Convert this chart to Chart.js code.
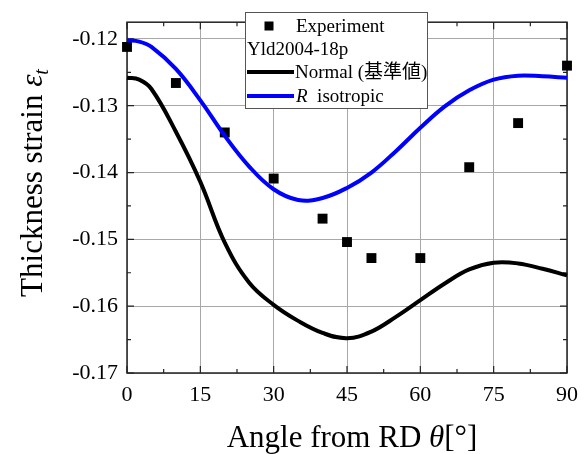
<!DOCTYPE html>
<html>
<head>
<meta charset="utf-8">
<script src="https://cdn.jsdelivr.net/npm/chart.js@4/dist/chart.umd.min.js"></script>
<style>
html, body { margin: 0; padding: 0; background: #fff; }
</style>
</head>
<body>
<canvas id="chart" width="587" height="454"></canvas>
<script>
// measured points
var exp_angle = [0, 10, 20, 30, 40, 45, 50, 60, 70, 80, 90];
var exp_strain = [-0.1212, -0.1266, -0.1340, -0.1409, -0.1469, -0.1504, -0.1528, -0.1528, -0.1392, -0.1326, -0.1240];

// simulated curves (Yld2004-18p)
var curve_angle = [0, 2.5, 5, 10, 15, 20, 25, 30, 35, 40, 45, 50, 55, 60, 65, 70, 75, 80, 85, 90];
var normal_strain = [-0.1258, -0.1261, -0.1275, -0.1339, -0.1414, -0.1505, -0.1565, -0.1598, -0.1622, -0.1640, -0.1648, -0.1638, -0.1616, -0.1591, -0.1566, -0.1545, -0.1535, -0.1536, -0.1544, -0.1554];
var iso_strain = [-0.1202, -0.1204, -0.1212, -0.1245, -0.1292, -0.1345, -0.1391, -0.1425, -0.1441, -0.1438, -0.1423, -0.1400, -0.1368, -0.1333, -0.1301, -0.1277, -0.1261, -0.1255, -0.1256, -0.1258];

var x_ticks = [0, 15, 30, 45, 60, 75, 90];
var y_ticks = [-0.17, -0.16, -0.15, -0.14, -0.13, -0.12];

var serif = "'Liberation Serif', 'Times New Roman', serif";
var cjk = "'Liberation Serif', 'Noto Sans CJK JP', serif";

function pairs(xs, ys) {
    var out = [];
    for (var i = 0; i < xs.length; i++) {
        out.push({x: xs[i], y: ys[i]});
    }
    return out;
}

// draws a row of text pieces with their own fonts
function drawRuns(ctx, runs, x, y, align) {
    var total = 0;
    runs.forEach(function(r) {
        ctx.font = r.font;
        r.w = ctx.measureText(r.text).width;
        total += r.w;
    });
    var cx = align == 'center' ? x - total / 2 : x;
    runs.forEach(function(r) {
        ctx.font = r.font;
        ctx.fillText(r.text, cx, y + (r.dy || 0));
        cx += r.w;
    });
}

var framePlugin = {
    id: 'frame',
    beforeDatasetsDraw: function(chart) {
        var ctx = chart.ctx;
        var a = chart.chartArea;
        var xs = chart.scales.x, ys = chart.scales.y;
        ctx.save();
        ctx.strokeStyle = '#222';
        ctx.lineWidth = 1.5;
        ctx.strokeRect(a.left, a.top, a.right - a.left, a.bottom - a.top);
        ctx.lineWidth = 1.2;
        ctx.beginPath();
        x_ticks.forEach(function(v, i) {
            var px = xs.getPixelForValue(v);
            ctx.moveTo(px, a.bottom); ctx.lineTo(px, a.bottom - 7);
            ctx.moveTo(px, a.top); ctx.lineTo(px, a.top + 7);
            if (i < x_ticks.length - 1) {
                var pm = xs.getPixelForValue(v + 7.5);
                ctx.moveTo(pm, a.bottom); ctx.lineTo(pm, a.bottom - 4);
                ctx.moveTo(pm, a.top); ctx.lineTo(pm, a.top + 4);
            }
        });
        y_ticks.forEach(function(v) {
            var py = ys.getPixelForValue(v);
            ctx.moveTo(a.left, py); ctx.lineTo(a.left + 7, py);
            ctx.moveTo(a.right, py); ctx.lineTo(a.right - 7, py);
            var pm = ys.getPixelForValue(v + 0.005);
            if (pm > a.top) {
                ctx.moveTo(a.left, pm); ctx.lineTo(a.left + 4, pm);
                ctx.moveTo(a.right, pm); ctx.lineTo(a.right - 4, pm);
            }
        });
        ctx.stroke();
        ctx.restore();
    },
    afterDraw: function(chart) {
        var ctx = chart.ctx;
        ctx.save();
        ctx.fillStyle = '#000';
        ctx.textBaseline = 'alphabetic';

        // x title
        drawRuns(ctx, [
            {text: 'Angle from RD ', font: '31px ' + serif},
            {text: '\u03b8', font: 'italic 31px ' + serif},
            {text: '[\u00b0]', font: '31px ' + serif}
        ], 352, 447, 'center');

        // y title
        ctx.translate(42, 183);
        ctx.rotate(-Math.PI / 2);
        drawRuns(ctx, [
            {text: 'Thickness strain ', font: '31px ' + serif},
            {text: '\u03b5', font: 'italic 31px ' + serif},
            {text: 't', font: 'italic 20px ' + serif, dy: 6}
        ], 0, 0, 'center');
        ctx.restore();

        // legend
        ctx.save();
        ctx.fillStyle = '#fff';
        ctx.fillRect(245.5, 12.5, 182, 96);
        ctx.strokeStyle = '#555';
        ctx.lineWidth = 1;
        ctx.strokeRect(245.5, 12.5, 182, 96);
        ctx.fillStyle = '#000';
        ctx.textBaseline = 'middle';
        ctx.fillRect(264.5, 21.5, 9, 9);
        ctx.font = '19px ' + serif;
        ctx.fillText('Experiment', 296, 27);
        ctx.fillText('Yld2004-18p', 247, 50);
        ctx.lineWidth = 4;
        ctx.strokeStyle = '#000';
        ctx.beginPath(); ctx.moveTo(247, 72); ctx.lineTo(294, 72); ctx.stroke();
        ctx.font = '19px ' + cjk;
        ctx.fillText('Normal (\u57fa\u6e96\u5024)', 295, 73);
        ctx.strokeStyle = '#0000ff';
        ctx.beginPath(); ctx.moveTo(247, 96); ctx.lineTo(294, 96); ctx.stroke();
        drawRuns(ctx, [
            {text: 'R', font: 'italic 19px ' + serif},
            {text: '  isotropic', font: '19px ' + serif}
        ], 296, 97, 'left');
        ctx.restore();
    }
};

var ctx = document.getElementById('chart').getContext('2d');

var chart = new Chart(ctx, {
    type: 'scatter',
    data: {
        datasets: [{
            label: 'Normal',
            data: pairs(curve_angle, normal_strain),
            showLine: true,
            borderColor: '#000',
            borderWidth: 4,
            pointRadius: 0,
            tension: 0.4,
            clip: false
        }, {
            label: 'R isotropic',
            data: pairs(curve_angle, iso_strain),
            showLine: true,
            borderColor: '#0000ff',
            borderWidth: 4,
            pointRadius: 0,
            tension: 0.4,
            clip: false
        }, {
            label: 'Experiment',
            data: pairs(exp_angle, exp_strain),
            pointStyle: 'rect',
            pointRadius: 7,
            backgroundColor: '#000',
            borderColor: '#000',
            borderWidth: 0,
            clip: false
        }]
    },
    options: {
        responsive: false,
        animation: false,
        layout: {padding: {left: 0, right: 11, top: 10, bottom: 0}},
        plugins: {
            legend: {display: false},
            tooltip: {enabled: false}
        },
        scales: {
            x: {
                type: 'linear',
                min: 0,
                max: 90,
                afterBuildTicks: function(axis) {
                    axis.ticks = x_ticks.map(function(v) { return {value: v}; });
                },
                afterFit: function(axis) { axis.height = 81; },
                grid: {color: '#a8a8a8', lineWidth: 1, drawTicks: false},
                border: {display: false},
                ticks: {
                    color: '#000',
                    padding: 9,
                    maxRotation: 0,
                    font: {family: serif, size: 22}
                }
            },
            y: {
                type: 'linear',
                min: -0.17,
                max: -0.1175,
                afterBuildTicks: function(axis) {
                    axis.ticks = y_ticks.map(function(v) { return {value: v}; });
                },
                afterFit: function(axis) { axis.width = 127; },
                grid: {color: '#a8a8a8', lineWidth: 1, drawTicks: false},
                border: {display: false},
                ticks: {
                    color: '#000',
                    padding: 9,
                    font: {family: serif, size: 22},
                    callback: function(v) { return v.toFixed(2); }
                }
            }
        }
    },
    plugins: [framePlugin]
});
</script>
</body>
</html>
